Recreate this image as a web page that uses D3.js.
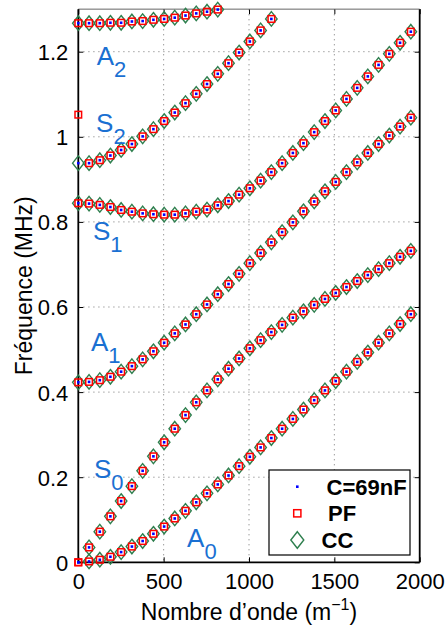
<!DOCTYPE html>
<html><head><meta charset="utf-8">
<script src="https://cdn.jsdelivr.net/npm/d3@7"></script>
<style>
body{margin:0;background:#fff}
svg{display:block}
text{font-family:"Liberation Sans",Arial,Helvetica,sans-serif}
</style>
</head><body>
<svg id="chart" width="445" height="627"></svg>
<script>
// ---------- data ----------
const waveNumber = [0, 63, 126, 188, 251, 314, 377, 440, 503, 565, 628, 691, 754, 817, 880, 942,
  1005, 1068, 1131, 1194, 1257, 1319, 1382, 1445, 1508, 1571, 1634, 1696, 1759, 1822, 1885, 1948];

const freqA0 = [0, 0.002, 0.006, 0.013, 0.024, 0.037, 0.050, 0.067, 0.084, 0.103, 0.121, 0.141, 0.162, 0.183, 0.204, 0.226,
  0.248, 0.270, 0.292, 0.314, 0.337, 0.359, 0.381, 0.404, 0.426, 0.448, 0.471, 0.493, 0.516, 0.538, 0.560, 0.583];
const freqS0 = [0, 0.035, 0.072, 0.108, 0.144, 0.179, 0.215, 0.249, 0.282, 0.314, 0.346, 0.376, 0.404, 0.430, 0.455, 0.479,
  0.503, 0.522, 0.541, 0.558, 0.575, 0.590, 0.605, 0.619, 0.633, 0.647, 0.661, 0.675, 0.689, 0.703, 0.718, 0.732];
const freqA1 = [0.423, 0.424, 0.428, 0.436, 0.448, 0.461, 0.477, 0.496, 0.516, 0.538, 0.559, 0.583, 0.606, 0.630, 0.654, 0.678,
  0.703, 0.727, 0.752, 0.776, 0.799, 0.825, 0.848, 0.872, 0.894, 0.917, 0.940, 0.962, 0.983, 1.003, 1.024, 1.045];
const freqS1 = [0.844, 0.843, 0.840, 0.835, 0.828, 0.824, 0.820, 0.818, 0.817, 0.817, 0.820, 0.824, 0.829, 0.839, 0.849, 0.864,
  0.879, 0.897, 0.917, 0.938, 0.962, 0.985, 1.011, 1.037, 1.062, 1.089, 1.115, 1.142, 1.169, 1.195, 1.221, 1.247];
const freqA2 = [1.267, 1.267, 1.267, 1.268, 1.268, 1.271, 1.272, 1.275, 1.277, 1.280, 1.285, 1.290, 1.294, 1.299];
const freqS2 = [0.938, 0.938, 0.945, 0.956, 0.969, 0.983, 1.001, 1.018, 1.037, 1.057, 1.079, 1.101, 1.124, 1.148, 1.173, 1.198,
  1.224, 1.250, 1.277];
// PF solver gives a different first S2 value
const freqS2PF = [1.052, 0.938, 0.945, 0.956, 0.969, 0.983, 1.001, 1.018, 1.037, 1.057, 1.079, 1.101, 1.124, 1.148, 1.173, 1.198,
  1.224, 1.250, 1.277];
// CC has no point at k = 0 for A0 and S0
const freqA0CC = [null].concat(freqA0.slice(1));
const freqS0CC = [null].concat(freqS0.slice(1));

const xTicks = [0, 500, 1000, 1500, 2000];
const xTickLabels = ["0", "500", "1000", "1500", "2000"];
const yTicks = [0, 0.2, 0.4, 0.6, 0.8, 1, 1.2];
const yTickLabels = ["0", "0.2", "0.4", "0.6", "0.8", "1", "1.2"];
const legendLabels = ["C=69nF", "PF", "CC"];
const modeNames = ["A", "S", "S", "A", "S", "A"];
const modeSubs = ["2", "2", "1", "1", "0", "0"];
const modeLabelK = [108, 104, 86, 74, 92, 637];
const modeLabelF = [1.169, 1.011, 0.757, 0.497, 0.198, 0.036];

// ---------- layout ----------
const svg = d3.select("#chart");
const W = 445, H = 627;
const m = {left: 78.3, right: 419.7, top: 9.15, bottom: 562.3};
const x = d3.scaleLinear().domain([0, 2000]).range([m.left, m.right]);
const y = d3.scaleLinear().domain([0, 1.3]).range([m.bottom, m.top]);

const colC = "#0000ff", colPF = "#ff0000", colCC = "#2e7f4e", colLab = "#1a70d2";

svg.append("rect").attr("width", W).attr("height", H).attr("fill", "#fff");

// grid
const g = svg.append("g");
g.selectAll(".gx").data(xTicks.filter(d => d > 0 && d < 2000)).join("line")
  .attr("x1", d => x(d)).attr("x2", d => x(d)).attr("y1", m.top).attr("y2", m.bottom)
  .attr("stroke", "#8a8a8a").attr("stroke-width", 1).attr("stroke-dasharray", "1.2,3.8");
g.selectAll(".gy").data(yTicks.filter(d => d > 0)).join("line")
  .attr("y1", d => y(d)).attr("y2", d => y(d)).attr("x1", m.left).attr("x2", m.right)
  .attr("stroke", "#8a8a8a").attr("stroke-width", 1).attr("stroke-dasharray", "1.2,3.8");

// axes via d3 axis generators (inward ticks)
const axB = svg.append("g").attr("transform", `translate(0,${m.bottom})`)
  .call(d3.axisBottom(x).tickValues(xTicks).tickFormat((d, i) => xTickLabels[i]).tickSizeInner(-5).tickSizeOuter(0).tickPadding(11));
const axT = svg.append("g").attr("transform", `translate(0,${m.top})`)
  .call(d3.axisTop(x).tickValues(xTicks).tickFormat("").tickSizeInner(-5).tickSizeOuter(0));
const axL = svg.append("g").attr("transform", `translate(${m.left},0)`)
  .call(d3.axisLeft(y).tickValues(yTicks).tickFormat((d, i) => yTickLabels[i]).tickSizeInner(-5).tickSizeOuter(0).tickPadding(10));
const axR = svg.append("g").attr("transform", `translate(${m.right},0)`)
  .call(d3.axisRight(y).tickValues(yTicks).tickFormat("").tickSizeInner(-5).tickSizeOuter(0));
[axB, axT, axL, axR].forEach(a => {
  a.selectAll(".domain").remove();
  a.selectAll(".tick line").attr("stroke", "#000").attr("stroke-width", 1);
  a.selectAll("text").attr("fill", "#000").style("font-size", "22px")
    .style("font-family", '"Liberation Sans",Arial,Helvetica,sans-serif');
});
axB.selectAll("text").attr("dy", "0.71em");
axL.selectAll("text").attr("dy", "0.36em");

// frame
svg.append("line").attr("x1", m.left).attr("x2", m.right).attr("y1", m.top).attr("y2", m.top)
  .attr("stroke", "#666").attr("stroke-width", 1);
svg.append("line").attr("x1", m.left).attr("x2", m.right).attr("y1", m.bottom).attr("y2", m.bottom)
  .attr("stroke", "#000").attr("stroke-width", 1.8);
svg.append("line").attr("x1", m.left).attr("x2", m.left).attr("y1", m.top).attr("y2", m.bottom)
  .attr("stroke", "#000").attr("stroke-width", 1.8);
svg.append("line").attr("x1", m.right).attr("x2", m.right).attr("y1", m.top).attr("y2", m.bottom)
  .attr("stroke", "#000").attr("stroke-width", 1.8);

// ---------- markers ----------
const toPts = arr => arr.map((f, i) => ({k: waveNumber[i], f})).filter(d => d.f !== null);
const seriesC = [freqA0, freqS0, freqA1, freqS1, freqA2, freqS2];
const seriesPF = [freqA0, freqS0, freqA1, freqS1, freqA2, freqS2PF];
const seriesCC = [freqA0CC, freqS0CC, freqA1, freqS1, freqA2, freqS2];

const diamond = (cx, cy, w, h) => `M${cx},${cy - h / 2}L${cx + w / 2},${cy}L${cx},${cy + h / 2}L${cx - w / 2},${cy}Z`;

const gCC = svg.append("g");
seriesCC.forEach(s => {
  gCC.selectAll(null).data(toPts(s)).join("path")
    .attr("d", d => diamond(x(d.k), y(d.f), 11.5, 14.5))
    .attr("fill", "none").attr("stroke", colCC).attr("stroke-width", 1.4);
});
const gPF = svg.append("g");
seriesPF.forEach(s => {
  gPF.selectAll(null).data(toPts(s)).join("rect")
    .attr("x", d => x(d.k) - 3.3).attr("y", d => y(d.f) - 3.3)
    .attr("width", 6.6).attr("height", 6.6)
    .attr("fill", "none").attr("stroke", colPF).attr("stroke-width", 1.5);
});
const gC = svg.append("g");
seriesC.forEach(s => {
  gC.selectAll(null).data(toPts(s)).join("rect")
    .attr("x", d => x(d.k) - 1.3).attr("y", d => y(d.f) - 1.3)
    .attr("width", 2.6).attr("height", 2.6).attr("fill", colC);
});

// ---------- mode labels ----------
modeNames.forEach((nm, i) => {
  const t = svg.append("text").attr("x", x(modeLabelK[i])).attr("y", y(modeLabelF[i]))
    .attr("fill", colLab).style("font-size", "26px").text(nm);
  t.append("tspan").attr("dy", 12).style("font-size", "22px").attr("dx", 0).text(modeSubs[i]);
});

// ---------- axis titles ----------
const xt = svg.append("text").attr("x", (m.left + m.right) / 2).attr("y", 620)
  .attr("text-anchor", "middle").style("font-size", "23px").attr("fill", "#000")
  .text("Nombre d\u2019onde (m");
xt.append("tspan").attr("dy", -10).style("font-size", "16px").text("\u22121");
xt.append("tspan").attr("dy", 10).text(")");

svg.append("text").attr("transform", `translate(32,${(m.top + m.bottom) / 2}) rotate(-90)`)
  .attr("text-anchor", "middle").style("font-size", "23px").attr("fill", "#000")
  .text("Fr\u00e9quence (MHz)");

// ---------- legend ----------
const lg = svg.append("g");
lg.append("rect").attr("x", 269).attr("y", 470).attr("width", 141).attr("height", 85)
  .attr("fill", "#fff").attr("stroke", "#000").attr("stroke-width", 1.2);
const legY = [486.7, 513.3, 540];
const legTX = [326.5, 328, 321.5];
lg.append("rect").attr("x", 297.3 - 1.3).attr("y", legY[0] - 1.3).attr("width", 2.6).attr("height", 2.6).attr("fill", colC);
lg.append("rect").attr("x", 297.3 - 3.6).attr("y", legY[1] - 3.6).attr("width", 7.2).attr("height", 7.2)
  .attr("fill", "none").attr("stroke", colPF).attr("stroke-width", 1.5);
lg.append("path").attr("d", diamond(297.3, legY[2], 13, 16.5)).attr("fill", "none").attr("stroke", colCC).attr("stroke-width", 1.4);
legendLabels.forEach((l, i) => {
  lg.append("text").attr("x", legTX[i]).attr("y", legY[i] + 8)
    .style("font-size", "22px").style("font-weight", "bold").attr("fill", "#000").text(l);
});
</script>
</body></html>
